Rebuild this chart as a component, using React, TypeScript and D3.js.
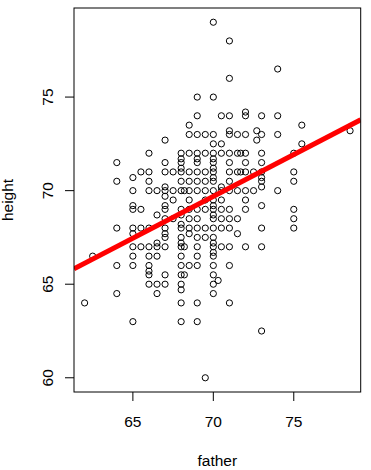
import React from "react";
import * as d3 from "d3";

// father height groups (x) and the son heights observed at each (y)
const fatherGroups = [62, 62.5, 64, 65, 65.5, 66, 66.5, 67, 67.5, 68, 68.2, 68.5, 69, 69.5, 70, 70.3, 70.5, 71, 71.5, 71.7, 72, 72.5, 72.7, 73, 74, 75, 75.5, 78.5];
const heightGroups = [
  [64],
  [66.5],
  [71.5, 70.5, 68, 66, 64.5],
  [70.7, 70, 69.2, 69, 68, 67.7, 67, 66.5, 66, 63],
  [71, 69, 68, 67],
  [72, 71, 70.5, 70, 68, 67, 66.5, 66, 65.7, 65.5, 65],
  [70, 68.7, 67.2, 67, 66.5, 65, 64.5],
  [72.7, 71.5, 71, 70.2, 70, 69.7, 69.2, 69, 68.5, 68, 67.7, 67.5, 67, 65.5, 65],
  [71, 70, 69.5, 68.5],
  [72, 71.7, 71.5, 71.2, 71, 70.5, 70, 69, 68.7, 68.2, 68, 67.5, 67.2, 67, 66.5, 66, 65.5, 65, 64.7, 64, 63],
  [70, 67, 65.5],
  [73.5, 73, 72, 71, 70.5, 70, 69.5, 69, 68.5, 68, 67.7, 66],
  [75, 74, 73, 72, 71.7, 71.5, 71, 70.5, 70, 69, 68.5, 68, 67.5, 67, 66.5, 66, 64, 63],
  [73, 72, 71, 70.5, 70, 69.5, 69, 68, 67.5, 60],
  [79, 75, 73, 72.5, 72, 71.7, 71.5, 71.2, 71, 70.7, 70.5, 70, 69.5, 69.2, 69, 68.7, 68.5, 68, 67.5, 67.2, 67, 66.7, 66.5, 66, 65.5, 65, 64.5],
  [65.2],
  [74, 72.5, 72, 70.2, 70, 69.5, 69, 68.5, 68, 67],
  [78, 76, 74, 73.2, 73, 72, 71.5, 71, 70.5, 70, 69, 68.5, 68, 67, 66, 64],
  [73, 72, 71, 70, 68.5, 67.7],
  [72, 71],
  [74.2, 74, 73, 72, 71.5, 71, 70, 69.5, 69, 67],
  [71, 70],
  [73.2, 72.7],
  [74, 73, 72, 71.5, 71, 70.7, 70.5, 70.2, 69.2, 68, 67, 62.5],
  [76.5, 74, 73, 70],
  [72, 71, 70.5, 69, 68.5, 68],
  [73.5, 72.5],
  [73.2],
];

const xTicks = [65, 70, 75];
const yTicks = [60, 65, 70, 75];
const fitIntercept = 38.4;
const fitSlope = 0.447;

const xLabel = "father";
const yLabel = "height";

export default function App() {
  const left = 74, right = 360.7, top = 8, bottom = 392;
  const points = fatherGroups.flatMap((f, i) => heightGroups[i].map((h) => ({ f, h })));
  const fExt = d3.extent(points, (d) => d.f) as [number, number];
  const hExt = d3.extent(points, (d) => d.h) as [number, number];
  const fPad = (fExt[1] - fExt[0]) * 0.04;
  const hPad = (hExt[1] - hExt[0]) * 0.04;
  const x = d3.scaleLinear().domain([fExt[0] - fPad, fExt[1] + fPad]).range([left, right]);
  const y = d3.scaleLinear().domain([hExt[0] - hPad, hExt[1] + hPad]).range([bottom, top]);
  const [d0, d1] = x.domain();
  const line = d3.line<number>().x((v) => x(v)).y((v) => y(fitIntercept + fitSlope * v));
  const font = "'Liberation Sans', Arial, sans-serif";
  return (
    <svg width={371} height={470} style={{ position: "absolute", left: 0, top: 0, background: "#fff" }}>
      <defs>
        <clipPath id="plotclip">
          <rect x={left} y={top} width={right - left} height={bottom - top} />
        </clipPath>
      </defs>
      <rect x={0} y={0} width={371} height={470} fill="#fff" />
      {points.map((p, i) => (
        <circle key={i} cx={x(p.f)} cy={y(p.h)} r={3.1} fill="none" stroke="#000" strokeWidth={1} />
      ))}
      <path d={line([d0, d1]) || ""} stroke="#ff0000" strokeWidth={5} fill="none" clipPath="url(#plotclip)" />
      <rect x={left} y={top} width={right - left} height={bottom - top} fill="none" stroke="#000" strokeWidth={1} />
      {xTicks.map((t) => (
        <g key={t}>
          <line x1={x(t)} x2={x(t)} y1={bottom} y2={bottom + 9} stroke="#000" />
          <text x={x(t)} y={427} textAnchor="middle" fontFamily={font} fontSize={15.5} fill="#000">{t}</text>
        </g>
      ))}
      {yTicks.map((t) => (
        <g key={t}>
          <line x1={left - 9} x2={left} y1={y(t)} y2={y(t)} stroke="#000" />
          <text transform={`translate(52.5,${y(t)}) rotate(-90)`} textAnchor="middle" fontFamily={font} fontSize={15.5} fill="#000">{t}</text>
        </g>
      ))}
      <text x={(left + right) / 2} y={466} textAnchor="middle" fontFamily={font} fontSize={15.5} fill="#000">{xLabel}</text>
      <text transform={`translate(13,${(top + bottom) / 2}) rotate(-90)`} textAnchor="middle" fontFamily={font} fontSize={15.5} fill="#000">{yLabel}</text>
    </svg>
  );
}
